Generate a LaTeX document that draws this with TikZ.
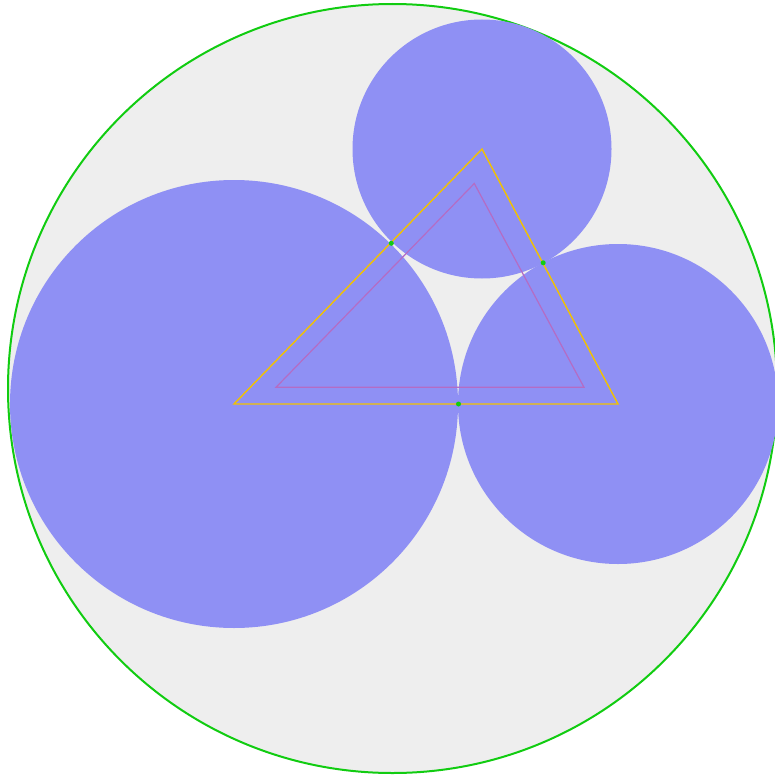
\documentclass[tikz,border=0pt]{standalone}
\definecolor{bgfill}{HTML}{EEEEEE}
\definecolor{disc}{HTML}{8F90F4}
\definecolor{outline}{HTML}{11CC11}
\definecolor{gold}{HTML}{F2C200}
\definecolor{violet}{HTML}{B46CC4}
\begin{document}
\begin{tikzpicture}[x=1pt,y=-1pt,
  discstyle/.style={fill=disc},
  tri/.style={line width=1.4pt,line join=miter},
  dot/.style={fill=outline}]
\useasboundingbox (0,0) rectangle (774,776);
% outer circle
\coordinate (O) at (392.5,388.5);
\fill[bgfill] (O) circle[radius=384.5];
\draw[outline,line width=2pt] (O) circle[radius=384.5];
% three circles
\coordinate (A) at (234,404);
\coordinate (B) at (618,404);
\coordinate (C) at (482,149);
\fill[discstyle] (A) circle[radius=224];
\fill[discstyle] (B) circle[radius=160];
\fill[discstyle] (C) circle[radius=129.5];
% inner triangle
\coordinate (P1) at (276,387.3);
\coordinate (P2) at (584,387.3);
\coordinate (P3) at (474.3,183.5);
\draw[violet,tri,line width=1.2pt] (P1) -- (P2) -- (P3) -- cycle;
% centre triangle
\draw[gold,tri] (A) -- (B) -- (C) -- cycle;
% tangent points
\coordinate (T1) at (458.5,404);
\coordinate (T2) at (391.3,243.3);
\coordinate (T3) at (543.2,262.8);
\fill[dot] (T1) circle[radius=2.5];
\fill[dot] (T2) circle[radius=2.5];
\fill[dot] (T3) circle[radius=2.5];
\end{tikzpicture}
\end{document}
